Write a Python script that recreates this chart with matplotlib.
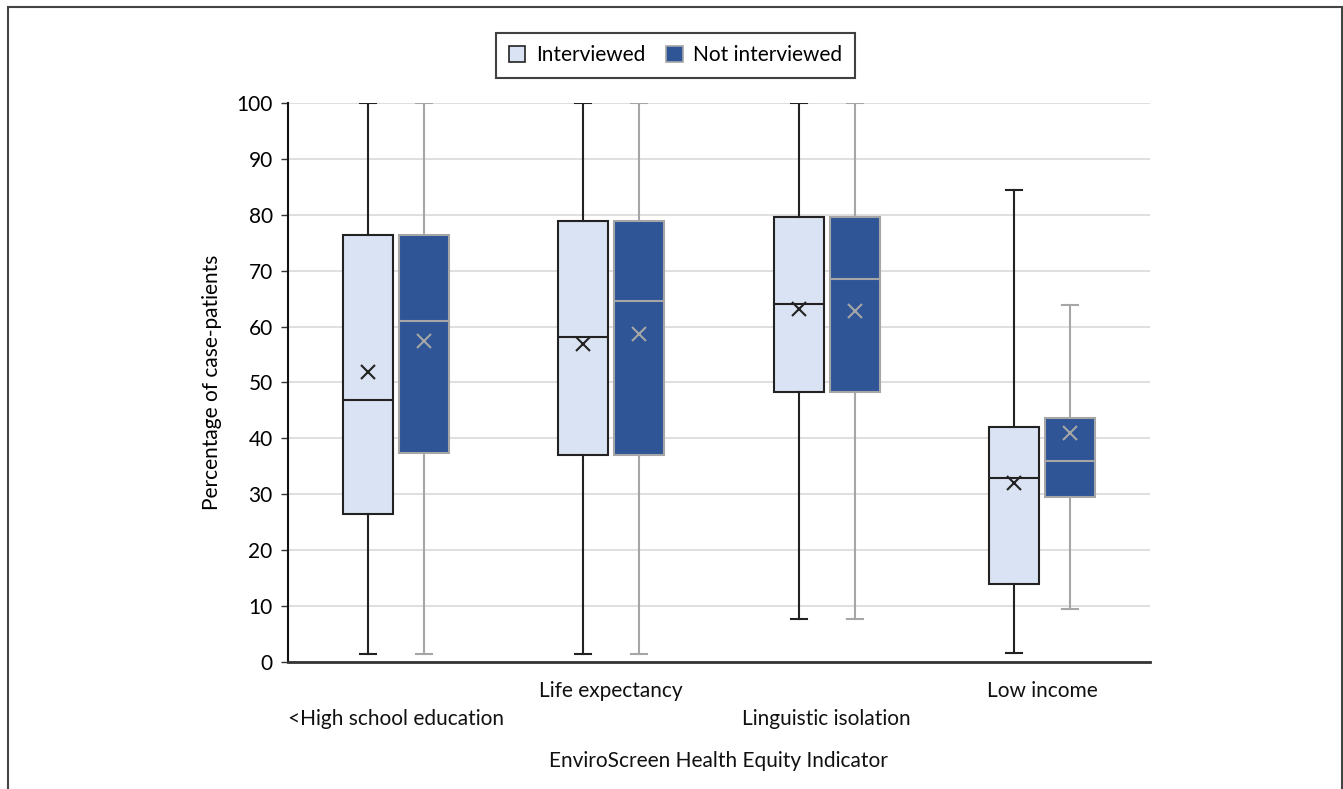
import matplotlib

matplotlib.use("Agg")
import matplotlib.pyplot as plt
from matplotlib.patches import Patch, Rectangle

plt.rcParams["font.family"] = ["Lato", "DejaVu Sans"]

indicators = ["<High school education", "Life expectancy", "Linguistic isolation", "Low income"]
label_rows = [0, 1, 0, 1]  # 0 = lower row, 1 = upper row (staggered)

# interviewed
int_low = [1.5, 1.5, 7.7, 1.6]
int_q1 = [26.5, 37.0, 48.3, 14.0]
int_med = [46.9, 58.1, 64.0, 32.9]
int_q3 = [76.4, 78.9, 79.6, 42.0]
int_high = [100, 100, 100, 84.4]
int_mean = [51.9, 56.9, 63.1, 32.0]

# not interviewed
not_low = [1.5, 1.5, 7.7, 9.5]
not_q1 = [37.4, 37.0, 48.3, 29.5]
not_med = [61.0, 64.6, 68.5, 36.0]
not_q3 = [76.4, 78.9, 79.6, 43.6]
not_high = [100, 100, 100, 63.9]
not_mean = [57.4, 58.7, 62.8, 41.0]

light_fill = "#dae3f3"
light_edge = "#222222"
dark_fill = "#2f5597"
dark_edge = "#a6a6a6"


def _stats(low, q1, med, q3, high, mean):
    return [
        {"whislo": a, "q1": b, "med": c, "q3": d, "whishi": e, "mean": f, "fliers": []}
        for a, b, c, d, e, f in zip(low, q1, med, q3, high, mean)
    ]


def _draw(ax, stats, positions, fill, edge):
    ax.bxp(
        stats,
        positions=positions,
        widths=0.232,
        patch_artist=True,
        showmeans=True,
        showfliers=False,
        boxprops=dict(facecolor=fill, edgecolor=edge, linewidth=1.5),
        medianprops=dict(color=edge, linewidth=1.5),
        whiskerprops=dict(color=edge, linewidth=1.5),
        capprops=dict(color=edge, linewidth=1.5),
        capwidths=0.075,
        meanprops=dict(marker="x", markeredgecolor=edge, markersize=10, markeredgewidth=1.5),
        zorder=3,
    )


fig = plt.figure(figsize=(13.43, 7.89), dpi=100)
ax = fig.add_axes([0.2144, 0.161, 0.6419, 0.7085])

groups = range(1, len(indicators) + 1)
offset = 0.13
_draw(ax, _stats(int_low, int_q1, int_med, int_q3, int_high, int_mean),
      [g - offset for g in groups], light_fill, light_edge)
_draw(ax, _stats(not_low, not_q1, not_med, not_q3, not_high, not_mean),
      [g + offset for g in groups], dark_fill, dark_edge)

ax.set_xlim(0.5, 4.5)
ax.set_ylim(0, 100)
ax.set_yticks(range(0, 101, 10))
ax.tick_params(axis="y", labelsize=15, direction="out", length=5, width=1, color="#333333", pad=6)
ax.set_xticks([])
ax.yaxis.grid(True, color="#d9d9d9", linewidth=1.2, zorder=0)
ax.set_axisbelow(True)
for side in ["top", "right"]:
    ax.spines[side].set_visible(False)
ax.spines["left"].set_color("#111111")
ax.spines["left"].set_linewidth(1.5)
ax.spines["bottom"].set_color("#333333")
ax.spines["bottom"].set_linewidth(2)

for g, name, row in zip(groups, indicators, label_rows):
    y = -0.052 if row == 1 else -0.102
    ax.text(g, y, name, transform=ax.get_xaxis_transform(), ha="center", va="center",
            fontsize=15, color="#111111")

ax.set_ylabel("Percentage of case-patients", fontsize=15, labelpad=10)
fig.text(0.535, 0.035, "EnviroScreen Health Equity Indicator", ha="center", va="center",
         fontsize=15, color="#111111")

handles = [
    Patch(facecolor=light_fill, edgecolor=light_edge, linewidth=1.2, label="Interviewed"),
    Patch(facecolor=dark_fill, edgecolor=dark_edge, linewidth=1.2, label="Not interviewed"),
]
leg = fig.legend(handles=handles, loc="center", bbox_to_anchor=(0.503, 0.930), ncol=2,
                 fontsize=15, frameon=True, fancybox=False, handlelength=0.8, handleheight=0.8,
                 columnspacing=1.0, handletextpad=0.5, borderpad=0.6)
leg.get_frame().set_edgecolor("#111111")
leg.get_frame().set_linewidth(1.5)

# outer frame around the figure
fig.patches.append(Rectangle((0.006, -0.01), 0.993, 1.001, transform=fig.transFigure,
                             fill=False, edgecolor="#444444", linewidth=1.5))

fig.savefig("out.png", dpi=100)
